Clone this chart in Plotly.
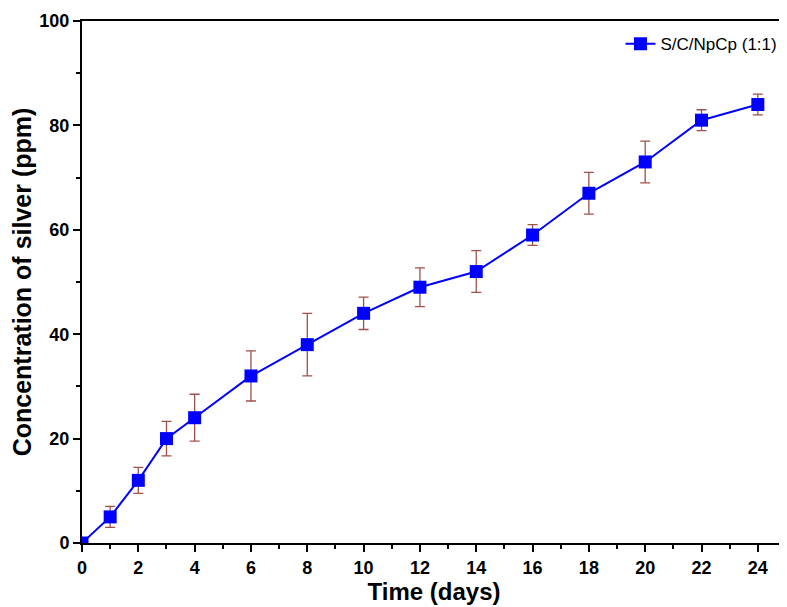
import plotly.graph_objects as go

days = [0, 1, 2, 3, 4, 6, 8, 10, 12, 14, 16, 18, 20, 22, 24]
silver_ppm = [0, 5, 12, 20, 24, 32, 38, 44, 49, 52, 59, 67, 73, 81, 84]
silver_err = [0, 2, 2.5, 3.3, 4.5, 4.8, 6, 3.1, 3.7, 4, 2, 4, 4, 2, 2]
series_name = "S/C/NpCp (1:1)"

fig = go.Figure()
fig.add_trace(go.Scatter(
    x=days, y=silver_ppm, name=series_name, mode="lines+markers",
    line=dict(color="#0000ff", width=2),
    marker=dict(symbol="square", size=13, color="#0000ff"),
    error_y=dict(type="data", array=silver_err, visible=True,
                 color="#a0504a", thickness=1.3, width=5),
))

font = "Liberation Sans, Arial, sans-serif"
fig.update_layout(
    width=779, height=599,
    margin=dict(l=74, r=1, t=13, b=64),
    paper_bgcolor="white", plot_bgcolor="white",
    font=dict(family=font, color="black"),
    showlegend=True,
    legend=dict(x=0.995, y=0.99, xanchor="right", yanchor="top",
                bgcolor="rgba(0,0,0,0)", font=dict(size=17, family=font)),
    xaxis=dict(range=[0, 25], tickvals=list(range(0, 25, 2)), automargin=False,
               ticks="outside", ticklen=7, tickwidth=2, tickcolor="black",
               minor=dict(dtick=1, ticks="outside", ticklen=4, tickwidth=2, tickcolor="black"),
               showline=True, linecolor="black", linewidth=2, mirror=True,
               showgrid=False, zeroline=False,
               tickfont=dict(size=18, family=font, weight="bold"),
               title=dict(text="<b>Time (days)</b>", font=dict(size=24, family=font), standoff=2)),
    yaxis=dict(range=[0, 100], tickvals=list(range(0, 101, 20)), automargin=False,
               ticks="outside", ticklen=7, tickwidth=2, tickcolor="black",
               minor=dict(dtick=10, ticks="outside", ticklen=4, tickwidth=2, tickcolor="black"),
               showline=True, linecolor="black", linewidth=2, mirror=True,
               showgrid=False, zeroline=False,
               tickfont=dict(size=18, family=font, weight="bold"),
               title=dict(text="<b>Concentration of silver (ppm)</b>", font=dict(size=25, family=font), standoff=6)),
)
fig.write_html("out.html")
